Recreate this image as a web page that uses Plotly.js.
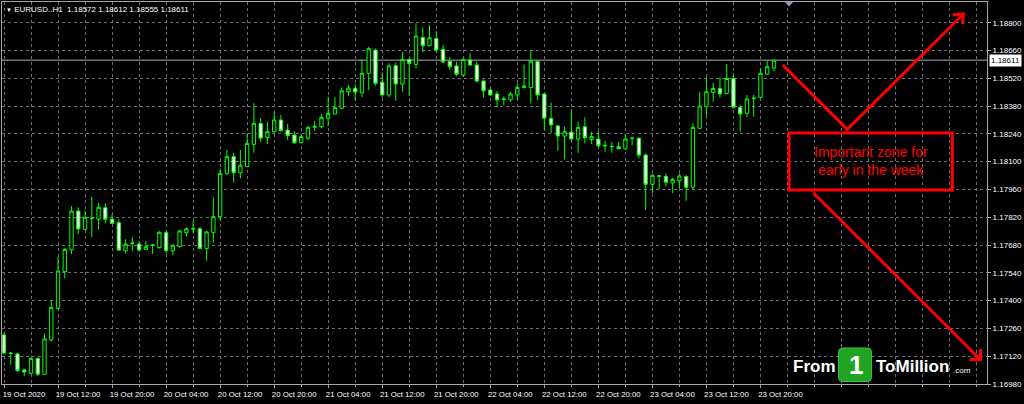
<!DOCTYPE html>
<html>
<head>
<meta charset="utf-8">
<script src="https://cdn.plot.ly/plotly-3.0.1.min.js"></script>
<style>
html,body{margin:0;padding:0;background:#000;overflow:hidden;}
#chart{width:1024px;height:404px;}
</style>
</head>
<body>
<div id="chart"></div>
<script>
// ---------------- DATA ----------------
const symbol = "EURUSD..H1";
const startTime = "2020-10-19 04:00";   // first H1 bar
const open = [1.17227,1.17136,1.17131,1.17051,1.17034,1.17109,1.17029,1.17202,1.17361,1.17546,
1.17655,1.17851,1.17759,1.17815,1.17810,1.17868,1.17810,1.17792,1.17651,1.17688,
1.17685,1.17658,1.17680,1.17667,1.17742,1.17651,1.17672,1.17742,1.17760,1.17762,
1.17662,1.17742,1.17823,1.18041,1.18125,1.18044,1.18075,1.18187,1.18293,1.18221,
1.18251,1.18310,1.18259,1.18234,1.18195,1.18218,1.18273,1.18276,1.18318,1.18340,
1.18369,1.18452,1.18469,1.18447,1.18545,1.18662,1.18500,1.18436,1.18583,1.18491,
1.18615,1.18590,1.18726,1.18684,1.18721,1.18666,1.18605,1.18582,1.18536,1.18612,
1.18587,1.18506,1.18461,1.18441,1.18413,1.18411,1.18436,1.18473,1.18474,1.18605,
1.18441,1.18318,1.18280,1.18229,1.18249,1.18214,1.18276,1.18212,1.18214,1.18182,
1.18175,1.18175,1.18165,1.18218,1.18218,1.18133,1.17986,1.18029,1.18026,1.17993,
1.18004,1.18025,1.17971,1.18268,1.18377,1.18449,1.18469,1.18444,1.18519,1.18374,
1.18344,1.18417,1.18424,1.18541,1.18572];
const high = [1.17235,1.17141,1.17138,1.17056,1.17114,1.17114,1.17235,1.17403,1.17621,1.17665,
1.17877,1.17870,1.17853,1.17923,1.17893,1.17890,1.17836,1.17810,1.17709,1.17719,
1.17700,1.17700,1.17685,1.17751,1.17751,1.17684,1.17756,1.17770,1.17802,1.17769,
1.17751,1.17920,1.18066,1.18159,1.18145,1.18159,1.18243,1.18394,1.18318,1.18300,
1.18352,1.18335,1.18290,1.18254,1.18238,1.18280,1.18306,1.18340,1.18427,1.18424,
1.18474,1.18486,1.18491,1.18615,1.18679,1.18669,1.18550,1.18595,1.18600,1.18652,
1.18620,1.18797,1.18776,1.18788,1.18758,1.18688,1.18626,1.18603,1.18620,1.18645,
1.18603,1.18515,1.18469,1.18456,1.18427,1.18451,1.18494,1.18590,1.18662,1.18610,
1.18445,1.18397,1.18285,1.18276,1.18364,1.18301,1.18323,1.18251,1.18254,1.18204,
1.18200,1.18200,1.18238,1.18221,1.18223,1.18142,1.18038,1.18031,1.18041,1.18019,
1.18041,1.18033,1.18293,1.18452,1.18525,1.18498,1.18525,1.18592,1.18545,1.18385,
1.18436,1.18436,1.18570,1.18608,1.18612];
const low = [1.17130,1.17076,1.17042,1.17020,1.17029,1.17020,1.17027,1.17195,1.17355,1.17512,
1.17635,1.17734,1.17756,1.17719,1.17759,1.17789,1.17785,1.17650,1.17638,1.17651,
1.17646,1.17655,1.17635,1.17662,1.17638,1.17628,1.17667,1.17722,1.17739,1.17660,
1.17601,1.17692,1.17806,1.18033,1.17994,1.18016,1.18072,1.18145,1.18200,1.18189,
1.18243,1.18251,1.18209,1.18189,1.18192,1.18209,1.18254,1.18268,1.18280,1.18340,
1.18364,1.18431,1.18411,1.18424,1.18461,1.18484,1.18424,1.18424,1.18407,1.18452,
1.18431,1.18570,1.18651,1.18682,1.18654,1.18598,1.18562,1.18531,1.18528,1.18582,
1.18498,1.18424,1.18431,1.18374,1.18385,1.18402,1.18411,1.18471,1.18393,1.18411,
1.18256,1.18243,1.18155,1.18112,1.18209,1.18145,1.18192,1.18189,1.18172,1.18150,
1.18145,1.18163,1.18160,1.18184,1.18117,1.17856,1.17941,1.17960,1.17974,1.17941,
1.17966,1.17903,1.17957,1.18263,1.18331,1.18402,1.18424,1.18439,1.18369,1.18251,
1.18323,1.18326,1.18419,1.18536,1.18555];
const close = [1.17136,1.17134,1.17047,1.17040,1.17109,1.17029,1.17207,1.17366,1.17549,1.17658,
1.17851,1.17761,1.17820,1.17815,1.17870,1.17810,1.17789,1.17655,1.17685,1.17690,
1.17655,1.17672,1.17679,1.17744,1.17651,1.17679,1.17751,1.17762,1.17762,1.17662,
1.17746,1.17823,1.18041,1.18125,1.18044,1.18082,1.18192,1.18293,1.18218,1.18251,
1.18310,1.18256,1.18231,1.18195,1.18226,1.18273,1.18278,1.18323,1.18343,1.18372,
1.18457,1.18471,1.18451,1.18545,1.18669,1.18494,1.18436,1.18582,1.18491,1.18615,
1.18595,1.18733,1.18684,1.18724,1.18662,1.18603,1.18578,1.18540,1.18615,1.18587,
1.18506,1.18457,1.18436,1.18411,1.18416,1.18441,1.18474,1.18481,1.18607,1.18436,
1.18318,1.18285,1.18229,1.18251,1.18214,1.18273,1.18221,1.18226,1.18180,1.18180,
1.18177,1.18165,1.18214,1.18218,1.18133,1.17986,1.18031,1.18027,1.17996,1.18011,
1.18028,1.17971,1.18273,1.18380,1.18452,1.18469,1.18441,1.18519,1.18374,1.18340,
1.18416,1.18420,1.18545,1.18578,1.18611];
const priceTicks = [1.16980,1.17120,1.17260,1.17400,1.17540,1.17680,1.17820,
1.17960,1.18100,1.18240,1.18380,1.18520,1.18660,1.18800];
const timeTickTimes = ["2020-10-19 04:00","2020-10-19 12:00","2020-10-19 20:00",
"2020-10-20 04:00","2020-10-20 12:00","2020-10-20 20:00",
"2020-10-21 04:00","2020-10-21 12:00","2020-10-21 20:00",
"2020-10-22 04:00","2020-10-22 12:00","2020-10-22 20:00",
"2020-10-23 04:00","2020-10-23 12:00","2020-10-23 20:00"];
const timeTickLabels = ["19 Oct 2020","19 Oct 12:00","19 Oct 20:00",
"20 Oct 04:00","20 Oct 12:00","20 Oct 20:00",
"21 Oct 04:00","21 Oct 12:00","21 Oct 20:00",
"22 Oct 04:00","22 Oct 12:00","22 Oct 20:00",
"23 Oct 04:00","23 Oct 12:00","23 Oct 20:00"];
const noteText = "Important zone for<br>early in the week";

// ---------------- BUILD ----------------
const H = 3600000;
const pad2 = n => String(n).padStart(2, '0');
function fmt(ms) {
  const d = new Date(ms);
  return d.getUTCFullYear() + '-' + pad2(d.getUTCMonth() + 1) + '-' + pad2(d.getUTCDate()) + ' ' +
    pad2(d.getUTCHours()) + ':' + pad2(d.getUTCMinutes()) + ':' + pad2(d.getUTCSeconds()) + '.' +
    String(d.getUTCMilliseconds()).padStart(3, '0');
}
const startMs = Date.parse(startTime.replace(' ', 'T') + ':00Z');
const times = open.map((_, i) => fmt(startMs + i * H));
const last = close.length - 1;

// plot frame in pixels: x 2..987, y 2..384
const L = 2, R = 987, T = 2, B = 384;
const px = x => (x - L) / (R - L);
const py = y => (B - y) / (B - T);

const green = '#00ff00';
const red = '#ff0000';
const gridColor = '#6f6f6f';
const frameColor = '#a8a8a8';
const fontFam = '"Liberation Sans", Arial, sans-serif';

const trace = {
  type: 'candlestick',
  x: times, open: open, high: high, low: low, close: close,
  increasing: {line: {color: green, width: 1}, fillcolor: '#000000'},
  decreasing: {line: {color: green, width: 1}, fillcolor: '#ffffff'},
  whiskerwidth: 0,
  hoverinfo: 'skip',
  showlegend: false
};

const xRange = [fmt(startMs - 0.296 * H), fmt(startMs + 145.54 * H)];

function pathStr(pts) {
  return pts.map((p, i) => (i ? 'L' : 'M') + px(p[0]).toFixed(5) + ',' + py(p[1]).toFixed(5)).join(' ');
}
function roundRect(x0, y0, x1, y1, r) {
  const rx = r / (R - L), ry = r / (B - T);
  const a = px(x0), b = px(x1), c = py(y1), d = py(y0); // c bottom, d top
  return `M${a + rx},${d} L${b - rx},${d} Q${b},${d} ${b},${d - ry} L${b},${c + ry} Q${b},${c} ${b - rx},${c} L${a + rx},${c} Q${a},${c} ${a},${c + ry} L${a},${d - ry} Q${a},${d} ${a + rx},${d} Z`;
}

const shapes = [
  // current price line
  {type: 'line', xref: 'paper', yref: 'y', x0: 0, x1: 1, y0: close[last], y1: close[last],
   line: {color: '#6e757d', width: 1.5}, layer: 'below'},
  // shift marker at top
  {type: 'path', xref: 'paper', yref: 'paper', path: pathStr([[785, 2], [793, 2], [789, 6.5]]) + ' Z',
   fillcolor: '#8aa0b8', line: {width: 0}},
  // red box
  {type: 'rect', xref: 'paper', yref: 'paper', x0: px(789), x1: px(952.3), y0: py(190), y1: py(133),
   line: {color: red, width: 3}},
  // arrow up
  {type: 'path', xref: 'paper', yref: 'paper',
   path: pathStr([[782.7, 65], [847.3, 129.3], [963.3, 14]]), line: {color: red, width: 3}},
  {type: 'path', xref: 'paper', yref: 'paper',
   path: pathStr([[952.5, 15], [963.3, 14], [962.6, 24]]), line: {color: red, width: 3}},
  // arrow down
  {type: 'path', xref: 'paper', yref: 'paper',
   path: pathStr([[813.3, 192.7], [980, 359.3]]), line: {color: red, width: 3}},
  {type: 'path', xref: 'paper', yref: 'paper',
   path: pathStr([[969.5, 359.5], [980.5, 359.5], [980.5, 349]]), line: {color: red, width: 3}},
  // logo green square
  {type: 'path', xref: 'paper', yref: 'paper', path: roundRect(838.5, 348, 871.5, 381.5, 4),
   fillcolor: '#23a323', line: {color: '#3cc43c', width: 1}}
];

const headerText = '<span style="font-size:6px">▼</span> ' + symbol + '  ' +
  open[last].toFixed(5) + ' ' + high[last].toFixed(5) + ' ' + low[last].toFixed(5) + ' ' + close[last].toFixed(5);

const annotations = [
  {xref: 'paper', yref: 'paper', x: px(4), y: py(2.5), xanchor: 'left', yanchor: 'top',
   text: headerText, showarrow: false, font: {family: fontFam, size: 8, color: '#ffffff'}},
  {xref: 'paper', yref: 'y', x: 1, xshift: 2, y: close[last], xanchor: 'left', yanchor: 'middle',
   text: close[last].toFixed(5), showarrow: false, bgcolor: '#ffffff', borderpad: 1,
   font: {family: fontFam, size: 8, color: '#000000'}},
  {xref: 'paper', yref: 'paper', x: px(870.5), y: py(161.5), xanchor: 'center', yanchor: 'middle',
   text: noteText, showarrow: false, align: 'center',
   font: {family: fontFam, size: 14, color: red}},
  {xref: 'paper', yref: 'paper', x: px(791), y: py(366), xanchor: 'left', yanchor: 'middle',
   text: '<b>From</b>', showarrow: false, font: {family: fontFam, size: 17, color: '#ffffff'}},
  {xref: 'paper', yref: 'paper', x: px(856), y: py(365), xanchor: 'center', yanchor: 'middle',
   text: '<b>1</b>', showarrow: false, font: {family: fontFam, size: 26, color: '#ffffff'}},
  {xref: 'paper', yref: 'paper', x: px(874), y: py(366), xanchor: 'left', yanchor: 'middle',
   text: '<b>ToMillion</b>', showarrow: false, font: {family: fontFam, size: 17, color: '#ffffff'}},
  {xref: 'paper', yref: 'paper', x: px(951), y: py(370), xanchor: 'left', yanchor: 'middle',
   text: '.com', showarrow: false, font: {family: fontFam, size: 8, color: '#ffffff'}}
];

const layout = {
  width: 1024, height: 404,
  paper_bgcolor: '#000000', plot_bgcolor: '#000000',
  margin: {l: L, r: 1024 - R, t: T, b: 404 - B, pad: 0},
  font: {family: fontFam, size: 8, color: '#ffffff'},
  showlegend: false,
  xaxis: {
    type: 'date', range: xRange, rangeslider: {visible: false},
    tickmode: 'array', tickvals: timeTickTimes, ticktext: timeTickLabels,
    ticks: 'outside', ticklen: 3, tickcolor: frameColor, ticklabelshift: 20,
    tickfont: {family: fontFam, size: 7.8, color: '#ffffff'},
    showgrid: true, gridcolor: gridColor, griddash: '3px,3px', gridwidth: 1,
    minor: {tickmode: 'linear', tick0: '2020-10-19 00:00', dtick: 4 * H, showgrid: true,
            gridcolor: gridColor, griddash: '3px,3px', gridwidth: 1, ticks: 'outside', ticklen: 2,
            tickcolor: frameColor},
    showline: true, linecolor: frameColor, linewidth: 1, mirror: true,
    zeroline: false, fixedrange: true
  },
  yaxis: {
    side: 'right', range: [1.16980, 1.189043],
    tickmode: 'array', tickvals: priceTicks, tickformat: '.5f',
    ticks: 'outside', ticklen: 3, tickcolor: frameColor,
    tickfont: {family: fontFam, size: 8, color: '#ffffff'},
    showgrid: true, gridcolor: gridColor, griddash: '3px,3px', gridwidth: 1,
    showline: true, linecolor: frameColor, linewidth: 1, mirror: true,
    zeroline: false, fixedrange: true
  },
  shapes: shapes,
  annotations: annotations
};

Plotly.newPlot('chart', [trace], layout, {displayModeBar: false, staticPlot: true});
</script>
</body>
</html>
